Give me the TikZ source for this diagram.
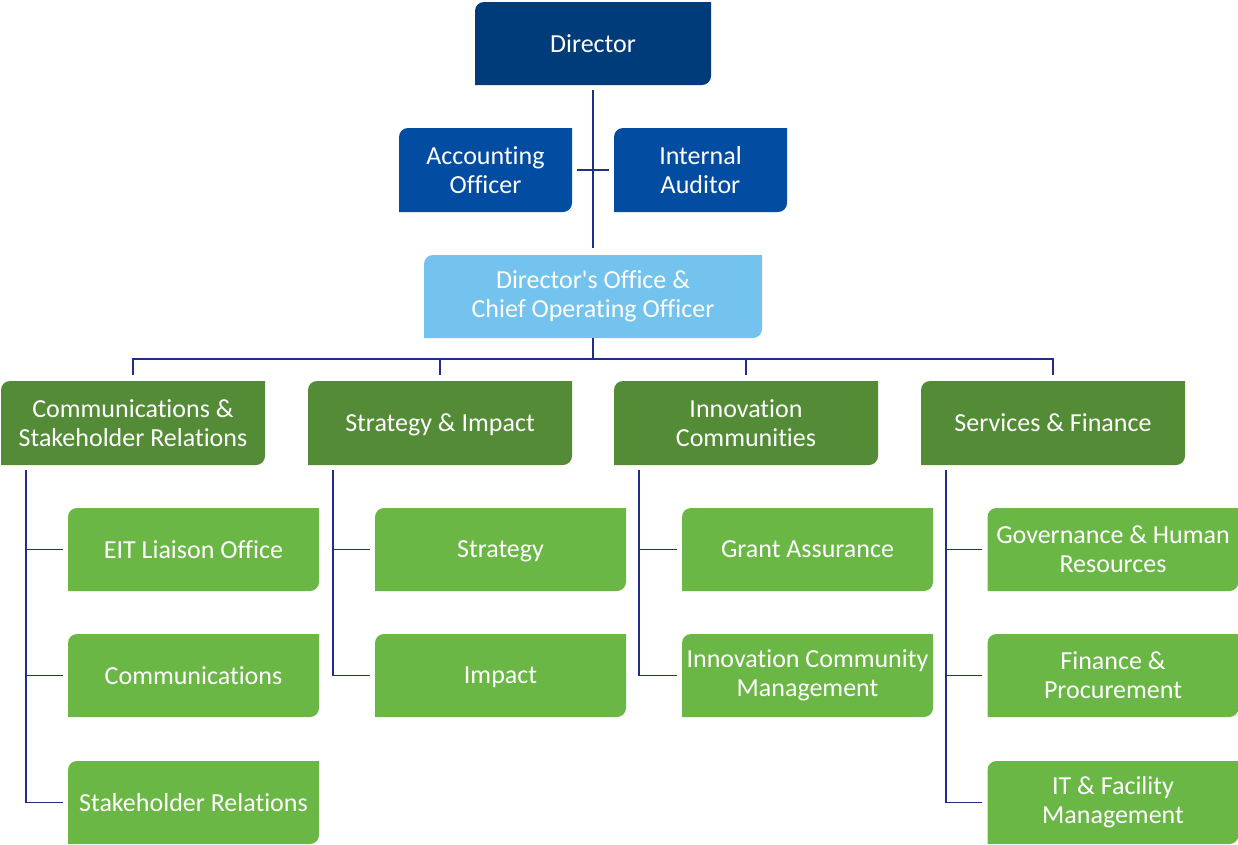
\documentclass[tikz,border=0pt]{standalone}
\usepackage{fontspec}
\setmainfont[Ligatures=NoCommon]{Carlito}
\usetikzlibrary{positioning}

\definecolor{navyblue}{HTML}{003B7A}
\definecolor{midblue}{HTML}{024DA1}
\definecolor{skyblue}{HTML}{73C3EE}
\definecolor{darkleaf}{HTML}{548B36}
\definecolor{lightleaf}{HTML}{6BB746}
\definecolor{linkblue}{HTML}{1F2F8A}

\begin{document}
\begin{tikzpicture}[x=1pt, y=-1pt]

\tikzset{
  cutbox/.style={path picture={
    \fill[#1] (path picture bounding box.south west)
      -- ([yshift=-9pt]path picture bounding box.north west)
      arc[start angle=180, end angle=90, radius=9pt]
      -- (path picture bounding box.north east)
      -- ([yshift=9pt]path picture bounding box.south east)
      arc[start angle=0, end angle=-90, radius=9pt] -- cycle;}},
  orgnode/.style={align=center, text=white, inner sep=0pt,
    font=\fontsize{26}{29}\selectfont},
  nodepth/.style={text depth=0pt},
  topnode/.style={orgnode, cutbox=navyblue, minimum width=236pt, minimum height=83pt},
  staffnode/.style={orgnode, cutbox=midblue, minimum width=173pt, minimum height=84pt},
  officenode/.style={orgnode, cutbox=skyblue, minimum width=338pt, minimum height=83pt},
  unitnode/.style={orgnode, cutbox=darkleaf, minimum width=264pt, minimum height=84pt},
  teamnode/.style={orgnode, cutbox=lightleaf, minimum width=251pt, minimum height=83pt},
  link/.style={draw=linkblue, line width=1.6pt}
}

\useasboundingbox (0,0) rectangle (1238,844);

\node[topnode] (director) at (593,43.5) {Director};
\node[staffnode] (accounting) at (485.5,170) {Accounting\\Officer};
\node[staffnode] (auditor) at (700.5,170) {Internal\\Auditor};
\node[officenode] (office) at (593,296.5) {Director\textquotesingle s Office \&\\Chief Operating Officer};

\node[unitnode] (comms) at (133,423) {Communications \&\\Stakeholder Relations};
\node[unitnode, nodepth] (strategy) at (440,423) {Strategy \& Impact};
\node[unitnode] (communities) at (746,423) {Innovation\\Communities};
\node[unitnode] (services) at (1053,423) {Services \& Finance};

\node[teamnode] (liaison) at (193.5,549.5) {EIT Liaison Office};
\node[teamnode] (communications) at (193.5,675.5) {Communications};
\node[teamnode] (stakeholder) at (193.5,802.5) {Stakeholder Relations};

\node[teamnode, nodepth] (strat) at (500.5,549.5) {Strategy};
\node[teamnode, nodepth] (impact) at (500.5,675.5) {Impact};

\node[teamnode] (grant) at (807.5,549.5) {Grant Assurance};
\node[teamnode] (icmanagement) at (807.5,675.5) {Innovation Community\\Management};

\node[teamnode] (governance) at (1113,549.5) {Governance \& Human\\Resources};
\node[teamnode] (finance) at (1113,675.5) {Finance \&\\Procurement};
\node[teamnode] (facility) at (1113,802.5) {IT \& Facility\\Management};

% top of the chart
\draw[link, shorten <=5pt, shorten >=7pt] (director.south) -- (office.north);
\draw[link, shorten <=5pt, shorten >=5pt] (accounting.east) -- (auditor.west);

\coordinate (bus) at (593,359);
\foreach \unit in {comms, strategy, communities, services}
  \draw[link, shorten >=6pt] (office.south) -- (office.south |- bus) -| (\unit.north);

% units down to their teams
\foreach \unit/\team in {comms/liaison, comms/communications, comms/stakeholder,
    strategy/strat, strategy/impact,
    communities/grant, communities/icmanagement,
    services/governance, services/finance, services/facility}
  \draw[link, shorten <=5pt, shorten >=5pt] ([xshift=25pt]\unit.south west) |- (\team.west);

\end{tikzpicture}
\end{document}
